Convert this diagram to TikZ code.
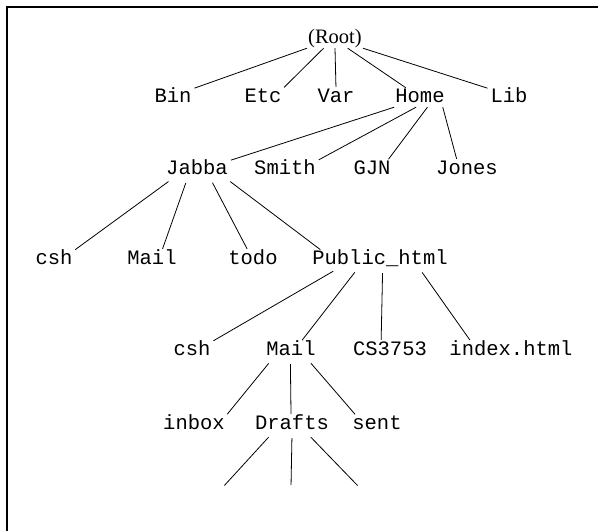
\documentclass[tikz,border=0pt]{standalone}
\usepackage{fontspec}
\setmainfont{Liberation Serif}
\setmonofont{Liberation Mono}

\begin{document}
\begin{tikzpicture}[x=1pt, y=1pt,
  dir/.style={font=\ttfamily\fontsize{20.5}{22}\selectfont, anchor=base,
    inner sep=1pt, text height=13pt, text depth=3pt},
  link/.style={line width=0.8pt, shorten >=2pt},
  lowlink/.style={link, shorten <=4pt}]
\useasboundingbox (0,0) rectangle (598,531);
\draw[line width=2pt] (7,0) -- (7,524) -- (598,524);

% directory names, placed on their baselines
\node[dir, font=\rmfamily\fontsize{20.5}{22}\selectfont] (root) at (335,487) {(Root)};
\node[dir] (bin)  at (173,428) {Bin};
\node[dir] (etc)  at (263,428) {Etc};
\node[dir] (var)  at (336,428) {Var};
\node[dir] (home) at (420,428) {Home};
\node[dir] (lib)  at (509,428) {Lib};
\node[dir] (jabba) at (197,356) {Jabba};
\node[dir] (smith) at (285,356) {Smith};
\node[dir] (gjn)   at (372,356) {GJN};
\node[dir] (jones) at (467,356) {Jones};
\node[dir] (csh)  at (54,266)  {csh};
\node[dir] (mail) at (152,266) {Mail};
\node[dir] (todo) at (253,266) {todo};
\node[dir] (pub)  at (380,266) {Public\_html};
\node[dir] (pcsh)  at (192,175) {csh};
\node[dir] (pmail) at (291,175) {Mail};
\node[dir] (cs)    at (390,175) {CS3753};
\node[dir] (idx)   at (511,175) {index.html};
\node[dir] (inbox)  at (194,101) {inbox};
\node[dir] (drafts) at (292,101) {Drafts};
\node[dir] (sent)   at (377,101) {sent};
\coordinate (d1) at (223,44);
\coordinate (d2) at (291,44);
\coordinate (d3) at (359,44);

% tree edges
\draw[link] (root.south west) -- (bin.north east);
\draw[link] (root.-141) -- (etc.north east);
\draw[link] (root.south) -- (var.north);
\draw[link] (root.-36) -- (home.144);
\draw[link] (root.south east) -- (lib.north west);

\draw[link] (home.south west) -- (jabba.north east);
\draw[link] (home.-113) -- (smith.north east);
\draw[link] (home.-51) -- (gjn.31);
\draw[link] (home.-22) -- (jones.137);

\draw[lowlink] (jabba.-160) -- (csh.north east);
\draw[lowlink] (jabba.-137) -- (mail.43);
\draw[lowlink] (jabba.-34) -- (todo.118);
\draw[lowlink] (jabba.-17) -- (pub.171);

\draw[lowlink] (pub.-168) -- (pcsh.north east);
\draw[lowlink] (pub.-158) -- (pmail.43);
\draw[lowlink] (pub.-74) -- (cs.134);
\draw[lowlink] (pub.-13) -- (idx.167);

\draw[lowlink] (pmail.-155) -- (inbox.north east);
\draw[lowlink] (pmail.-94) -- (drafts.96);
\draw[lowlink] (pmail.-28) -- (sent.156);

\draw[lowlink] (drafts.-156) -- (d1);
\draw[lowlink] (drafts.-90) -- (d2);
\draw[lowlink] (drafts.-30) -- (d3);
\end{tikzpicture}
\end{document}
